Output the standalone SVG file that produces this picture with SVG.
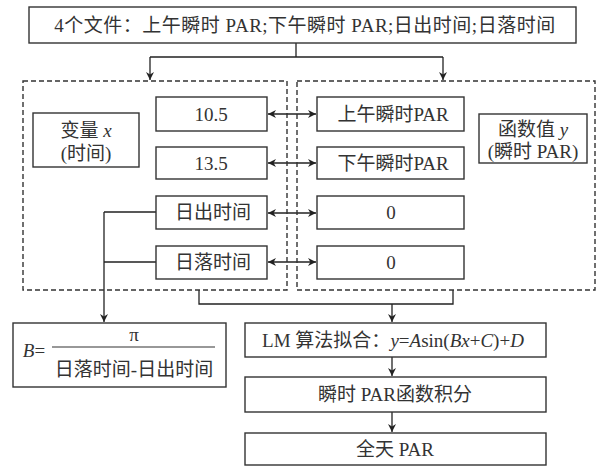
<svg xmlns="http://www.w3.org/2000/svg" width="602" height="468" viewBox="0 0 602 468">
<style>
.box{fill:#fff;stroke:#333;stroke-width:1.4}
.dash{fill:none;stroke:#333;stroke-width:1.4;stroke-dasharray:5 3}
.ln{fill:none;stroke:#222;stroke-width:1.3}
text{font-family:"Liberation Serif","Noto Sans CJK SC",serif;font-size:19px;fill:#333;text-anchor:middle}
.it{font-style:italic}
</style>
<defs>
<marker id="ah" viewBox="0 0 10 10" refX="10" refY="5" markerWidth="8" markerHeight="8" markerUnits="userSpaceOnUse" orient="auto-start-reverse">
<path d="M0,0 L10,5 L0,10 L3,5 z" fill="#222"/>
</marker>
</defs>
<rect width="602" height="468" fill="#fff"/>

<g id="connectors">
<path class="ln" d="M296,43 V57 M150,57 H443" />
<path class="ln" d="M150,57 V80" marker-end="url(#ah)"/>
<path class="ln" d="M443,57 V80" marker-end="url(#ah)"/>
<path class="ln" d="M268,114 H316" marker-start="url(#ah)" marker-end="url(#ah)"/>
<path class="ln" d="M268,163 H316" marker-start="url(#ah)" marker-end="url(#ah)"/>
<path class="ln" d="M268,213 H316" marker-start="url(#ah)" marker-end="url(#ah)"/>
<path class="ln" d="M268,262 H316" marker-start="url(#ah)" marker-end="url(#ah)"/>
<path class="ln" d="M156,212 H104 M104,262 H156"/>
<path class="ln" d="M104,212 V322" marker-end="url(#ah)"/>
<path class="ln" d="M199,290 V304 H453 V290"/>
<path class="ln" d="M392,304 V322" marker-end="url(#ah)"/>
<path class="ln" d="M392,357 V376" marker-end="url(#ah)"/>
<path class="ln" d="M392,412 V432" marker-end="url(#ah)"/>
</g>

<g id="top">
<rect class="box" x="29" y="7" width="547" height="36"/>
<text x="305" y="32" letter-spacing="0.5">4个文件：上午瞬时 PAR;下午瞬时 PAR;日出时间;日落时间</text>
</g>

<g id="group-x">
<rect class="dash" x="23" y="81" width="264" height="209"/>
</g>
<g id="group-y">
<rect class="dash" x="297" y="81" width="298" height="209"/>
</g>

<g id="var-x">
<rect class="box" x="33" y="113" width="106" height="54"/>
<text x="86" y="137">变量 <tspan class="it">x</tspan></text>
<text x="86" y="160">(时间)</text>
</g>
<g id="val-y">
<rect class="box" x="479" y="114" width="108" height="49"/>
<text x="533" y="136">函数值 <tspan class="it">y</tspan></text>
<text x="533" y="158">(瞬时 PAR)</text>
</g>

<g id="x1"><rect class="box" x="156" y="97" width="111" height="34"/><text x="211" y="121">10.5</text></g>
<g id="x2"><rect class="box" x="156" y="147" width="111" height="32"/><text x="211" y="170">13.5</text></g>
<g id="x3"><rect class="box" x="156" y="196" width="111" height="33"/><text x="213" y="219">日出时间</text></g>
<g id="x4"><rect class="box" x="156" y="246" width="111" height="33"/><text x="213" y="269">日落时间</text></g>

<g id="y1"><rect class="box" x="317" y="97" width="147" height="34"/><text x="393" y="121">上午瞬时PAR</text></g>
<g id="y2"><rect class="box" x="317" y="147" width="147" height="32"/><text x="393" y="170">下午瞬时PAR</text></g>
<g id="y3"><rect class="box" x="317" y="196" width="147" height="33"/><text x="391" y="219">0</text></g>
<g id="y4"><rect class="box" x="317" y="246" width="147" height="33"/><text x="391" y="269">0</text></g>

<g id="b-formula">
<rect class="box" x="13" y="323" width="213" height="64"/>
<text x="34" y="357" class="it">B<tspan font-style="normal">=</tspan></text>
<text x="134" y="341" font-size="15">π</text>
<line x1="52" y1="347" x2="215" y2="347" stroke="#333" stroke-width="1.2"/>
<text x="134" y="376">日落时间-日出时间</text>
</g>

<g id="lm">
<rect class="box" x="245" y="323" width="301" height="34"/>
<text x="393" y="347">LM 算法拟合：<tspan class="it">y</tspan>=<tspan class="it">A</tspan>sin(<tspan class="it">Bx</tspan>+<tspan class="it">C</tspan>)+<tspan class="it">D</tspan></text>
</g>
<g id="integral">
<rect class="box" x="245" y="377" width="301" height="35"/>
<text x="395" y="401">瞬时 PAR函数积分</text>
</g>
<g id="allday">
<rect class="box" x="245" y="433" width="301" height="32"/>
<text x="395" y="456">全天 PAR</text>
</g>
</svg>
